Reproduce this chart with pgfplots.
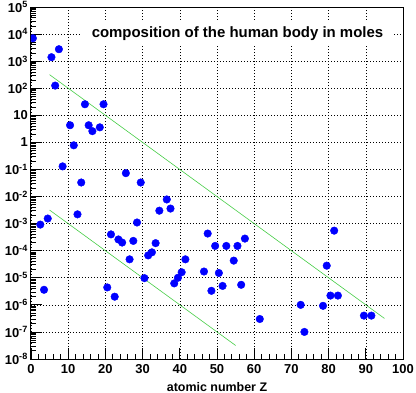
\documentclass[border=0pt]{standalone}
\usepackage{fontspec}
\setmainfont{Liberation Sans}
\usepackage{pgfplots}
\pgfplotsset{compat=1.18}
\definecolor{rootgreen}{RGB}{70,205,70}
\begin{document}
\begin{tikzpicture}
\useasboundingbox (-31bp,-34bp) rectangle (385bp,359bp);
\begin{axis}[
  at={(0,0)}, anchor=south west,
  width=372bp, height=352bp, scale only axis,
  xmin=0, xmax=100,
  ymode=log, ymin=1e-8, ymax=1e5,
  xtick={0,10,...,100},
  minor x tick num=4,
  ytick={1e-8,1e-7,1e-6,1e-5,1e-4,1e-3,1e-2,1e-1,1,10,100,1000,10000,100000},
  yticklabels={10\textsuperscript{-8},10\textsuperscript{-7},10\textsuperscript{-6},10\textsuperscript{-5},10\textsuperscript{-4},10\textsuperscript{-3},10\textsuperscript{-2},10\textsuperscript{-1},1,10,10\textsuperscript{2},10\textsuperscript{3},10\textsuperscript{4},10\textsuperscript{5}},
  xticklabels={0,10,20,30,40,50,60,70,80,90,100},
  tick align=inside,
  xtick pos=bottom, ytick pos=left,
  major tick length=11bp, minor tick length=5.5bp,
  tick style={black, line width=0.8bp},
  axis line style={line width=1bp},
  grid=major,
  major grid style={black, line width=0.6bp, dash pattern=on 0.8bp off 2.2bp},
  ticklabel style={font=\bfseries\fontsize{13}{15}\selectfont},
  yticklabel style={anchor=east, inner xsep=0pt, xshift=-3bp},
  xticklabel style={anchor=north, inner ysep=0pt, yshift=-5bp},
  xlabel={atomic number Z},
  xlabel style={font=\bfseries\fontsize{12.5}{14}\selectfont, inner ysep=0pt, yshift=-9bp},
  clip marker paths=true,
]
\addplot[rootgreen, line width=0.6bp] coordinates {(5,316.2) (95,3.162e-7)};
\addplot[rootgreen, line width=0.6bp] coordinates {(5,3.162e-3) (55,3.162e-8)};
\addplot[only marks, mark=*, mark size=3.8bp, draw=blue, fill=blue] coordinates {
(0.5,7000) (2.5,9.2e-4) (3.5,3.6e-6) (4.5,1.54e-3) (5.5,1400) (6.5,125) (7.5,2760)
(8.5,0.13) (10.5,4.3) (11.5,0.78) (12.5,2.2e-3) (13.5,0.033) (14.5,25.6) (15.5,4.3)
(16.5,2.6) (18.5,3.6) (19.5,25.6) (20.5,4.4e-6) (21.5,4.0e-4) (22.5,2.0e-6)
(23.5,2.6e-4) (24.5,2.0e-4) (25.5,0.073) (26.5,4.8e-5) (27.5,2.3e-4) (28.5,1.1e-3)
(29.5,0.033) (30.5,9.7e-6) (31.5,6.7e-5) (32.5,8.7e-5) (33.5,1.9e-4) (34.5,3.0e-3)
(36.5,7.8e-3) (37.5,3.6e-3) (38.5,6.2e-6) (39.5,1.0e-5) (40.5,1.6e-5) (41.5,4.8e-5)
(46.5,1.7e-5) (47.5,4.3e-4) (48.5,3.3e-6) (49.5,1.5e-4) (50.5,1.5e-5) (51.5,5.0e-6)
(52.5,1.5e-4) (54.5,4.3e-5) (55.5,1.5e-4) (56.5,5.5e-6) (57.5,2.8e-4) (61.5,3.0e-7)
(72.5,1.0e-6) (73.5,1.0e-7) (78.5,9.2e-7) (79.5,2.8e-5) (80.5,2.2e-6) (81.5,5.5e-4)
(82.5,2.2e-6) (89.5,4.0e-7) (91.5,4.0e-7)
};
\node[fill=white, font=\bfseries\fontsize{15}{18}\selectfont, text height=11bp, text depth=3bp, inner xsep=11bp, inner ysep=6bp] at (rel axis cs:0.555,0.926) {composition of the human body in moles};
\end{axis}
\end{tikzpicture}
\end{document}
